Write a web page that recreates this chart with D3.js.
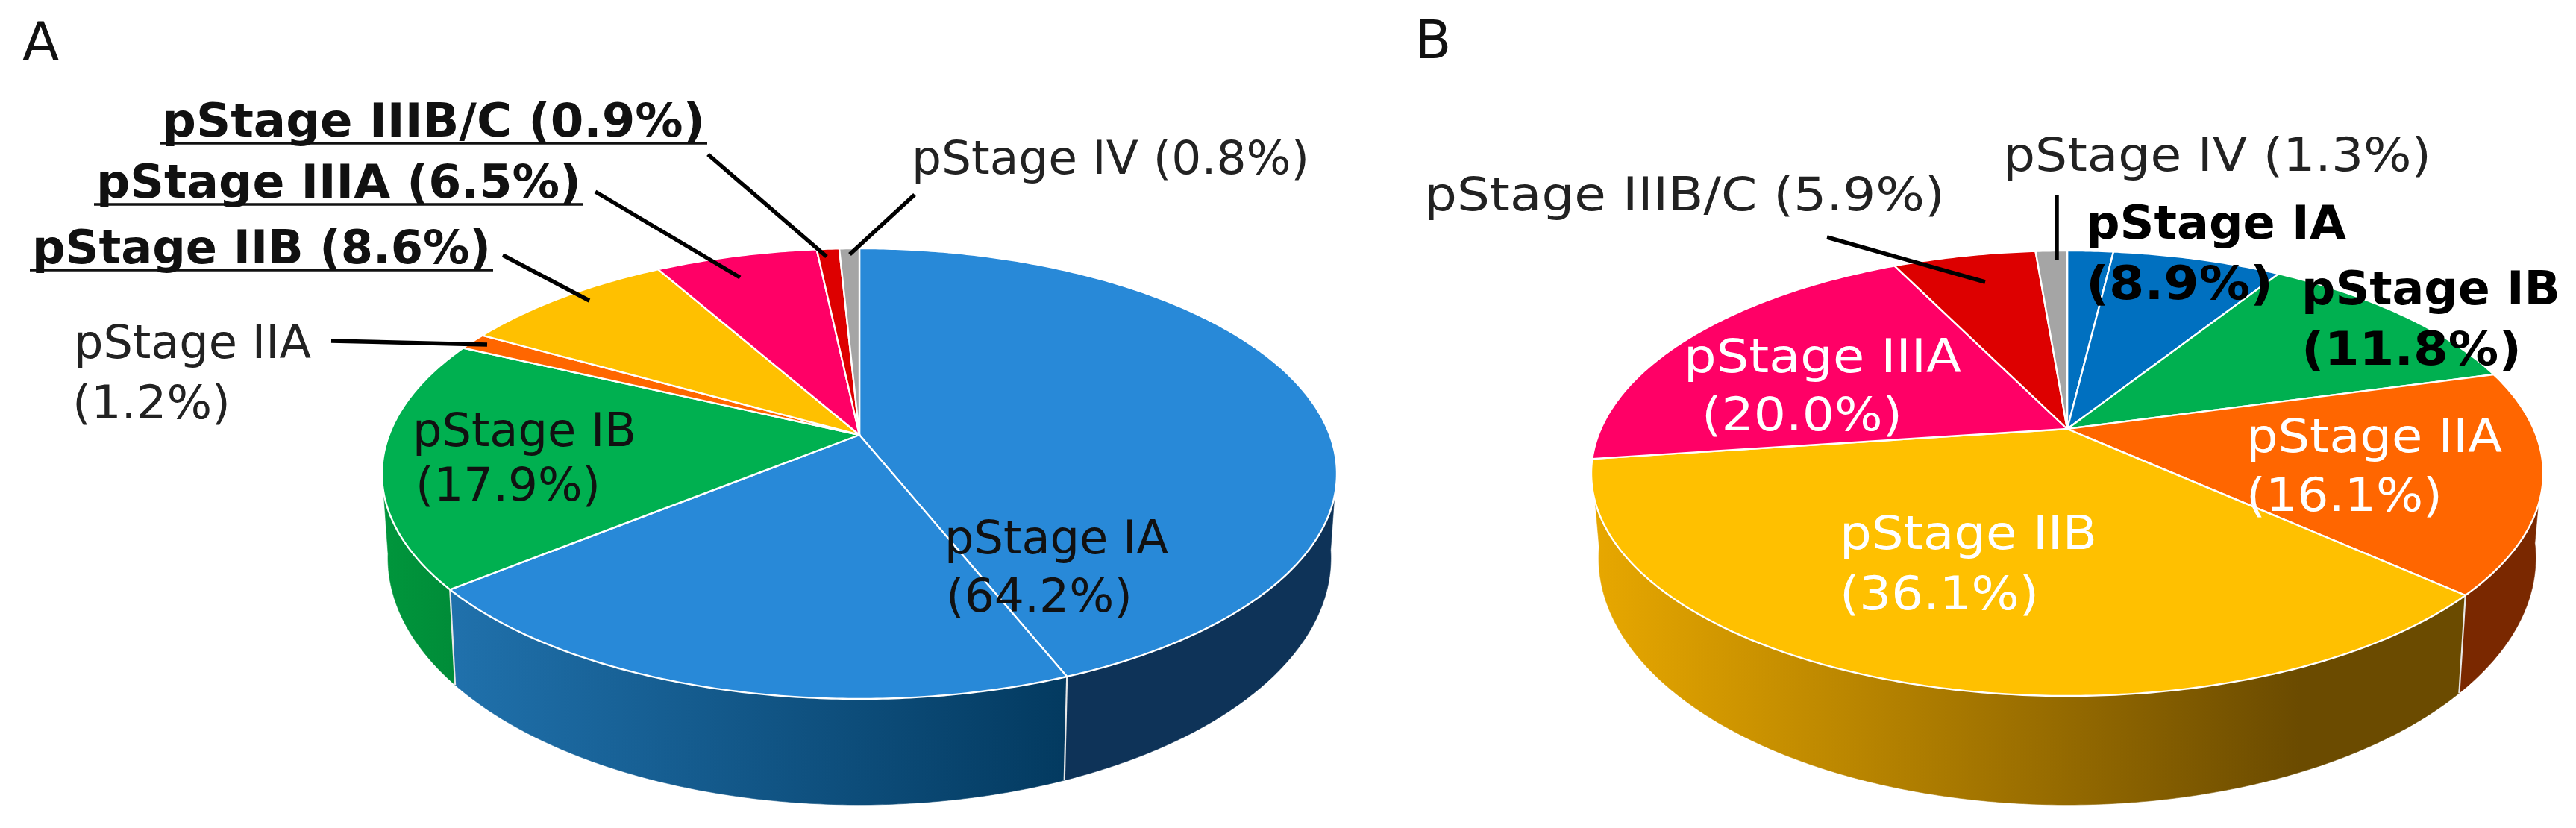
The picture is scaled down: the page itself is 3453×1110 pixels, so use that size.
<!DOCTYPE html>
<html><head><meta charset="utf-8">
<script src="https://cdn.jsdelivr.net/npm/d3@7/dist/d3.min.js"></script>
<style>html,body{margin:0;padding:0;background:#fff}svg{display:block}</style>
</head><body>
<script>
// ---- data ----
const stagesA = ["IA","IA","IB","IIA","IIB","IIIA","IIIB/C","IV"];
const valuesA = [44.0,20.2,17.9,1.2,8.6,6.5,0.9,0.8];
const stagesB = ["IA","IA","IB","IIA","IIB","IIIA","IIIB/C","IV"];
const valuesB = [1.9,7.0,11.8,16.1,36.1,20.0,5.9,1.3];
// ---- colours ----
const colorsA = {IA:"#2889D8",IB:"#00B050",IIA:"#FF6600",IIB:"#FFC000",IIIA:"#FF0066","IIIB/C":"#DD0000",IV:"#A5A5A5"};
const colorsB = {IA:"#0070C0",IB:"#00B050",IIA:"#FF6600",IIB:"#FFC000",IIIA:"#FF0066","IIIB/C":"#DD0000",IV:"#A5A5A5"};
const sideA = [["#0E3358","#0E3358",1],["#2071AC","#033A60",1],["#00963C","#008C38",1],["#C85000","#C85000",1],["#C89600","#C89600",1],["#C00050","#C00050",1],["#AA0000","#AA0000",1],["#808080","#808080",1]];
const sideB = [["#004A80","#004A80",1],["#004A80","#004A80",1],["#007A38","#007A38",1],["#7A2800","#7A2800",1],["#E8A800","#6B4B00",0.81],["#C00050","#C00050",1],["#AA0000","#AA0000",1],["#808080","#808080",1]];
// ---- geometry ----
const geomA = {cx:1152,apexY:583,top:333,bottom:937,rx:640,botCy:748,botRx:632,botRy:331};
const geomB = {cx:2771,apexY:575,top:336,bottom:933,rx:638,botCy:748,botRx:628,botRy:331};
// ---- text: [text,x,baseline,width,bold,underline,fill] ----
const textsA = [
 ["pStage IIIB/C (0.9%)",217,183,728,1,1,"#111"],
 ["pStage IIIA (6.5%)",129,265,650,1,1,"#111"],
 ["pStage IIB (8.6%)",43,353,615,1,1,"#111"],
 ["pStage IIA",99,480,318,0,0,"#222"],
 ["(1.2%)",97,561,212,0,0,"#222"],
 ["pStage IV (0.8%)",1222,233,533,0,0,"#222"],
 ["pStage IB",553,598,300,0,0,"#111"],
 ["(17.9%)",557,671,248,0,0,"#111"],
 ["pStage IA",1266,742,300,0,0,"#111"],
 ["(64.2%)",1268,820,250,0,0,"#111"]
];
const textsB = [
 ["pStage IV (1.3%)",2685,229,574,0,0,"#222"],
 ["pStage IIIB/C (5.9%)",1909,282,698,0,0,"#222"],
 ["pStage IA",2796,320,349,1,0,"#000"],
 ["(8.9%)",2796,401,251,1,0,"#000"],
 ["pStage IB",3085,408,347,1,0,"#000"],
 ["(11.8%)",3085,489,295,1,0,"#000"],
 ["pStage IIA",3011,606,343,0,0,"#fff"],
 ["(16.1%)",3011,685,263,0,0,"#fff"],
 ["pStage IIB",2466,736,345,0,0,"#fff"],
 ["(36.1%)",2466,817,267,0,0,"#fff"],
 ["pStage IIIA",2257,499,372,0,0,"#fff"],
 ["(20.0%)",2281,577,269,0,0,"#fff"]
];
const leadersA = [[444,457,653,462],[674,342,790,403],[798,257,992,372],[949,207,1108,344],[1226,261,1139,341]];
const leadersB = [[2757,262,2757,349],[2449,318,2661,378]];
const panelLabels = [["A",30,80],["B",1896,78]];

const svg = d3.select("body").append("svg").attr("width",3453).attr("height",1110);
const defs = svg.append("defs");
const lineGen = d3.line();

function drawPie(id, stages, values, colors, sides, g, texts, leaders){
  const up = g.apexY-g.top, down = g.bottom-g.apexY;
  const k = (down-up)/(down+up);           // perspective strength
  const a = up*(1+k);
  const c = g.rx*Math.sqrt(1-k*k);
  const cyTop = (g.top+g.bottom)/2, ryTop = (g.bottom-g.top)/2;
  const proj = (th,r=1)=>{
    const X=r*Math.sin(th), s=-r*Math.cos(th), D=1-k*s;
    return [g.cx+c*X/D, g.apexY+a*s/D];
  };
  const projBot = th=>{
    const p=proj(th);
    return [g.cx+(p[0]-g.cx)*g.botRx/g.rx, g.botCy+(p[1]-cyTop)*g.botRy/ryTop];
  };
  const arcs = d3.pie().sort(null).value(d=>d)(values);
  const thetas=(t0,t1)=>{const n=Math.max(2,Math.ceil((t1-t0)/0.01));return d3.range(n+1).map(i=>t0+(t1-t0)*i/n);};
  const layer = svg.append("g");

  // sides, front part only
  const fMin=Math.PI*0.545, fMax=Math.PI*1.45;
  arcs.forEach((d,i)=>{
    const t0=Math.max(d.startAngle,fMin), t1=Math.min(d.endAngle,fMax);
    if(t1<=t0) return;
    const ts=thetas(t0,t1);
    const pts=ts.map(t=>proj(t)).concat(ts.slice().reverse().map(t=>projBot(t)));
    const xs=pts.map(p=>p[0]);
    const gid=`${id}s${i}`;
    const lg=defs.append("linearGradient").attr("id",gid).attr("gradientUnits","userSpaceOnUse")
      .attr("x1",d3.min(xs)).attr("x2",d3.max(xs)).attr("y1",0).attr("y2",0);
    lg.append("stop").attr("offset",0).attr("stop-color",sides[i][0]);
    lg.append("stop").attr("offset",sides[i][2]).attr("stop-color",sides[i][1]);
    layer.append("path").attr("d",lineGen(pts)+"Z").attr("fill",`url(#${gid})`).attr("stroke",`url(#${gid})`).attr("stroke-width",.6);
  });
  // separators on the side
  arcs.forEach(d=>{
    const t=d.endAngle;
    if(t>fMin&&t<fMax){
      layer.append("path").attr("d",lineGen([proj(t),projBot(t)])).attr("stroke","#e8e8e8").attr("stroke-width",2.2).attr("fill","none");
    }
  });
  // top face
  arcs.forEach((d,i)=>{
    const ts=thetas(d.startAngle,d.endAngle);
    const pts=[proj(0,0)].concat(ts.map(t=>proj(t)));
    layer.append("path").attr("d",lineGen(pts)+"Z")
      .attr("fill",colors[stages[i]]).attr("stroke","#fff").attr("stroke-width",2.4).attr("stroke-linejoin","round");
  });
  // leaders
  layer.selectAll("line.l").data(leaders).join("line").attr("class","l")
    .attr("x1",d=>d[0]).attr("y1",d=>d[1]).attr("x2",d=>d[2]).attr("y2",d=>d[3])
    .attr("stroke","#000").attr("stroke-width",5.5);
  // texts
  texts.forEach(t=>{
    layer.append("text").text(t[0]).attr("x",t[1]).attr("y",t[2])
      .attr("textLength",t[3]).attr("lengthAdjust","spacingAndGlyphs")
      .attr("font-family","'DejaVu Sans'").attr("font-size",63)
      .attr("font-weight",t[4]?700:400).attr("fill",t[6]);
    if(t[5]) layer.append("line").attr("x1",t[1]-3).attr("x2",t[1]+t[3]+3).attr("y1",t[2]+9).attr("y2",t[2]+9)
      .attr("stroke","#111").attr("stroke-width",3.5);
  });
}
drawPie("a",stagesA,valuesA,colorsA,sideA,geomA,textsA,leadersA);
drawPie("b",stagesB,valuesB,colorsB,sideB,geomB,textsB,leadersB);
svg.selectAll("text.p").data(panelLabels).join("text").attr("class","p")
  .text(d=>d[0]).attr("x",d=>d[1]).attr("y",d=>d[2])
  .attr("font-family","'DejaVu Sans'").attr("font-size",72).attr("fill","#111");
</script>
</body></html>
